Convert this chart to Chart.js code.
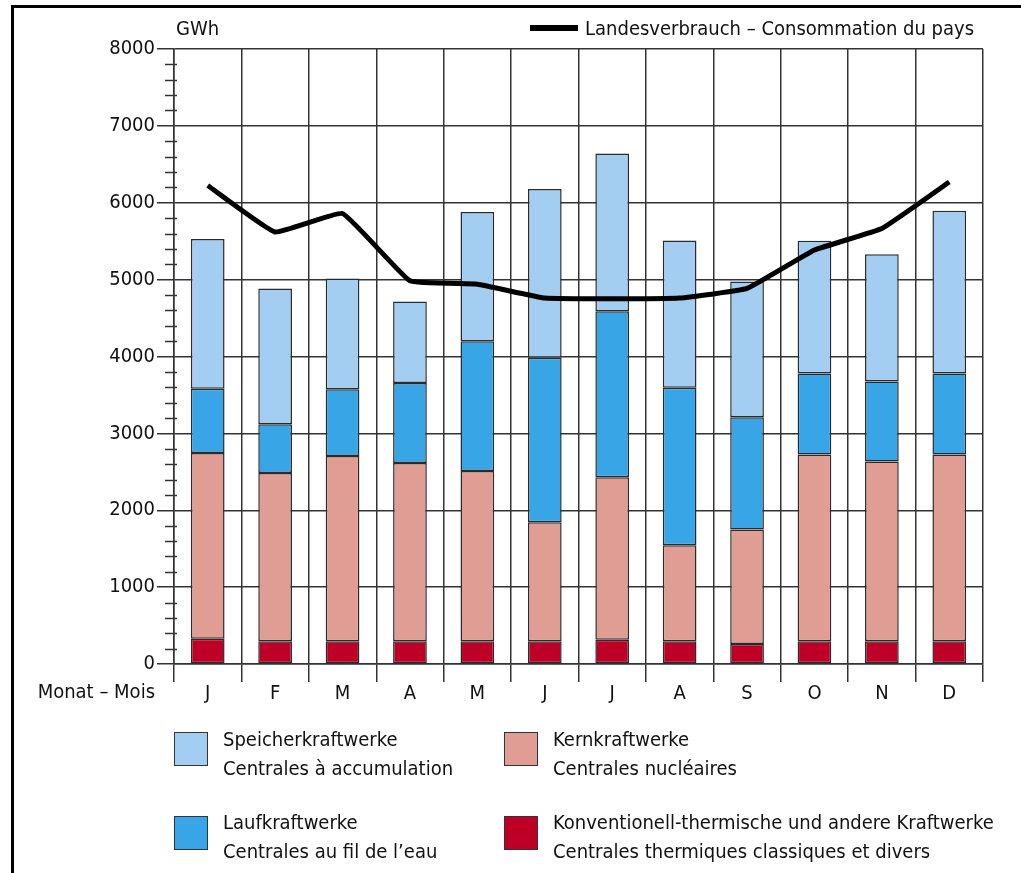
<!DOCTYPE html>
<html>
<head>
<meta charset="utf-8">
<script src="https://cdn.jsdelivr.net/npm/chart.js@4"></script>
<style>
  body { margin: 0; background: #fff; }
  #wrap { position: relative; width: 1021px; height: 873px; overflow: hidden;
          font-family: 'DejaVu Sans Condensed', 'Liberation Sans Narrow', sans-serif; color: #111; }
  #wrap canvas { position: absolute; left: 0; top: 0; }
  .t { position: absolute; font-size: 20px; white-space: nowrap; line-height: 24px; }
  .sw { position: absolute; width: 32px; height: 32px; border: 1.5px solid #333; }
  .frameTop { position: absolute; left: 11px; top: 5px; width: 1010px; height: 3px; background: #000; }
  .frameLeft { position: absolute; left: 11px; top: 5px; width: 3px; height: 868px; background: #000; }
</style>
</head>
<body>
<div id="wrap">
  <canvas id="chart" width="1021" height="873"></canvas>
  <div class="frameTop"></div>
  <div class="frameLeft"></div>

  <div class="t" style="left:176px; top:16px;">GWh</div>
  <div style="position:absolute; left:530px; top:25px; width:48px; height:6px; background:#000;"></div>
  <div class="t" style="left:585px; top:16px;">Landesverbrauch – Consommation du pays</div>
  <div class="t" style="right:866px; top:679px;">Monat – Mois</div>

  <div class="sw" style="left:174px; top:732px; background:#A3CEF1;"></div>
  <div class="t" style="left:223px; top:727px;">Speicherkraftwerke</div>
  <div class="t" style="left:223px; top:756px;">Centrales à accumulation</div>

  <div class="sw" style="left:504px; top:732px; background:#E09D94;"></div>
  <div class="t" style="left:553px; top:727px;">Kernkraftwerke</div>
  <div class="t" style="left:553px; top:756px;">Centrales nucléaires</div>

  <div class="sw" style="left:174px; top:816px; background:#38A6E6;"></div>
  <div class="t" style="left:223px; top:810px;">Laufkraftwerke</div>
  <div class="t" style="left:223px; top:839px;">Centrales au fil de l’eau</div>

  <div class="sw" style="left:504px; top:816px; background:#BE0026;"></div>
  <div class="t" style="left:553px; top:810px;">Konventionell-thermische und andere Kraftwerke</div>
  <div class="t" style="left:553px; top:839px;">Centrales thermiques classiques et divers</div>
</div>

<script>
// Monate und Werte in GWh
const months = ['J', 'F', 'M', 'A', 'M', 'J', 'J', 'A', 'S', 'O', 'N', 'D'];
const thermal  = [330, 295, 295, 295, 295, 295, 315, 295, 260, 295, 295, 295];
const nuclear  = [2415, 2190, 2410, 2320, 2215, 1550, 2115, 1250, 1490, 2430, 2340, 2430];
const river    = [835, 635, 870, 1040, 1690, 2140, 2160, 2050, 1460, 1055, 1040, 1055];
const storage  = [1950, 1765, 1440, 1060, 1680, 2195, 2050, 1915, 1765, 1725, 1655, 2115];
const consumption = [6225, 5620, 5860, 4985, 4940, 4760, 4750, 4760, 4885, 5385, 5665, 6270];
const yTicks = [0, 1000, 2000, 3000, 4000, 5000, 6000, 7000, 8000];

const gridColor = '#333';
const fontSpec = { family: "'DejaVu Sans Condensed', 'Liberation Sans Narrow', sans-serif", size: 20 };

// kleine Zwischenstriche alle 200 GWh auf der y-Achse
const minorTicks = {
    id: 'minorTicks',
    afterDraw(chart) {
        const y = chart.scales.y;
        const x0 = chart.chartArea.left;
        const ctx = chart.ctx;
        ctx.save();
        ctx.strokeStyle = gridColor;
        ctx.lineWidth = 1.5;
        for (let v = 200; v < 8000; v += 200) {
            if (v % 1000 === 0) continue;
            const py = Math.round(y.getPixelForValue(v)) + 0.5;
            ctx.beginPath();
            ctx.moveTo(x0 - 9, py);
            ctx.lineTo(x0 + 3, py);
            ctx.stroke();
        }
        ctx.restore();
    }
};

function barSet(label, data, color) {
    return {
        type: 'bar',
        label: label,
        data: data,
        backgroundColor: color,
        borderColor: '#2a2a2a',
        borderWidth: 1.5,
        borderSkipped: false,
        barPercentage: 0.5,
        categoryPercentage: 1.0,
        stack: 'prod',
        order: 1
    };
}

new Chart(document.getElementById('chart'), {
    data: {
        labels: months,
        datasets: [
            {
                type: 'line',
                label: 'Landesverbrauch – Consommation du pays',
                data: consumption,
                borderColor: '#000',
                borderWidth: 5,
                pointRadius: 0,
                tension: 0.1,
                fill: false,
                stack: 'line',
                order: 0
            },
            barSet('Konventionell-thermische und andere Kraftwerke', thermal, '#BE0026'),
            barSet('Kernkraftwerke', nuclear, '#E09D94'),
            barSet('Laufkraftwerke', river, '#38A6E6'),
            barSet('Speicherkraftwerke', storage, '#A3CEF1')
        ]
    },
    options: {
        responsive: false,
        animation: false,
        devicePixelRatio: 1,
        layout: { padding: { top: 49, right: 38, bottom: 159, left: 0 } },
        plugins: { legend: { display: false }, tooltip: { enabled: false } },
        scales: {
            x: {
                stacked: true,
                grid: { offset: true, color: gridColor, lineWidth: 1.5, tickLength: 18 },
                border: { color: gridColor, width: 1.5 },
                ticks: { color: '#111', font: fontSpec, padding: 0 },
                afterFit(scale) { scale.height = 50; }
            },
            y: {
                stacked: true,
                min: 0,
                max: 8000,
                afterBuildTicks(scale) { scale.ticks = yTicks.map(v => ({ value: v })); },
                grid: { color: gridColor, lineWidth: 1.5, tickLength: 17 },
                border: { color: gridColor, width: 1.5 },
                ticks: { color: '#111', font: fontSpec, padding: 2, callback: v => String(v) },
                afterFit(scale) { scale.width = 174; }
            }
        }
    },
    plugins: [minorTicks]
});
</script>
</body>
</html>
